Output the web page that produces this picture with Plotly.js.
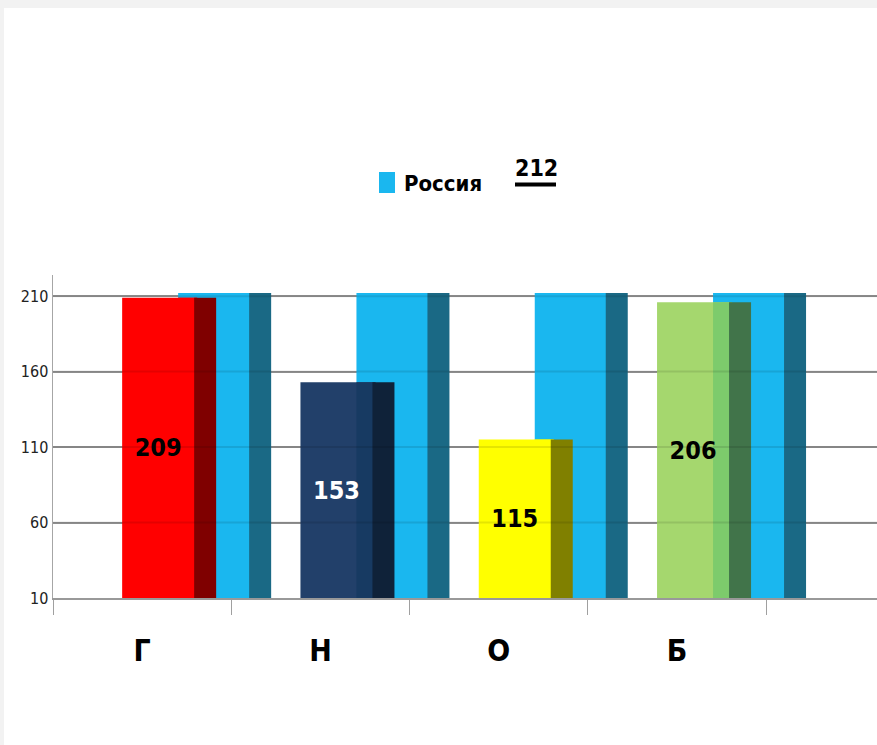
<!DOCTYPE html>
<html>
<head>
<meta charset="utf-8">
<script src="https://cdn.plot.ly/plotly-3.0.1.min.js"></script>
<style>
  html, body { margin: 0; padding: 0; background: #f2f2f2; width: 877px; height: 745px; overflow: hidden; }
  #chart { position: absolute; left: 4px; top: 8px; width: 873px; height: 737px; background: #ffffff; }
</style>
</head>
<body>
<div id="chart"></div>
<script>
// ---- data ----
const categories = ['Г', 'Н', 'О', 'Б'];
const values = [209, 153, 115, 206];
const russia = [212, 212, 212, 212];
const russiaName = 'Россия';
const russiaTotal = 212;
const yTicks = [10, 60, 110, 160, 210];
const xBoundaries = [-0.5, 0.5, 1.5, 2.5, 3.5];

// ---- styles ----
const faceColors  = ['#ff0000', '#22406a', '#ffff00', '#a5d76e'];
const blendColors = ['#ff0000', '#173a62', '#ffff00', '#7dcb6c'];
const sideColors  = ['#7f0000', '#0f2239', '#808000', '#41744a'];
const labelColors = ['#000000', '#ffffff', '#000000', '#000000'];
const blueFace = '#1ab7ef';
const blueSide = '#1a6985';
const FONT = '"Liberation Sans Narrow", "DejaVu Sans Condensed", "Arial Narrow", sans-serif';

const BASE = yTicks[0];
const CAT_PX = 178.3;           // pixels per category
const u = px => px / CAT_PX;    // pixel offset -> category units

const xs = categories.map((c, i) => i);
const hgt = arr => arr.map(v => v - BASE);

function bar(y, x0px, x1px, color, extra) {
  return Object.assign({
    type: 'bar', x: xs, y: hgt(y), base: BASE,
    offset: u(x0px), width: u(x1px - x0px),
    marker: { color: color, line: { width: 0 } },
    hoverinfo: 'skip', showlegend: false
  }, extra || {});
}

const traces = [
  bar(russia, 36, 110, blueFace, { name: russiaName }),
  bar(russia, 107, 129, blueSide),
  bar(values, -20, 55, faceColors),
  bar(values, 36, 55, blendColors),
  bar(values, 52, 74, sideColors),
  bar(values, -20, 52, 'rgba(0,0,0,0)', {
    text: values.map(String),
    textposition: 'inside',
    insidetextanchor: 'middle',
    textangle: 0,
    constraintext: 'none',
    textfont: { family: FONT, size: 25, color: labelColors, weight: 'bold' }
  })
];

const plotW = 824, plotH = 323, L = 49, T = 267;
const px2x = px => (px - 4 - L) / plotW;
const px2y = py => (T + plotH - (py - 8)) / plotH;

const shapes = [
  // legend swatch
  { type: 'rect', xref: 'paper', yref: 'paper',
    x0: px2x(379), x1: px2x(395), y0: px2y(193), y1: px2y(172),
    fillcolor: blueFace, line: { width: 0 } },
  // underline of total
  { type: 'line', xref: 'paper', yref: 'paper',
    x0: px2x(515), x1: px2x(556), y0: px2y(184.5), y1: px2y(184.5),
    line: { color: '#000', width: 4 } }
];
// faint gridlines showing through the bars
yTicks.slice(1).forEach(t => shapes.push({
  type: 'line', xref: 'paper', yref: 'y', x0: 0, x1: 1, y0: t, y1: t,
  layer: 'above', line: { color: 'rgba(0,0,0,0.1)', width: 2 }
}));

const layout = {
  width: 873, height: 737,
  margin: { l: L, r: 0, t: T, b: 147, pad: 0 },
  paper_bgcolor: '#ffffff', plot_bgcolor: '#ffffff',
  barmode: 'overlay',
  showlegend: false,
  hovermode: false,
  xaxis: {
    range: [-0.5, -0.5 + plotW / CAT_PX],
    tickmode: 'array', tickvals: xs, ticktext: categories,
    ticks: 'outside', ticklen: 25, tickcolor: 'rgba(0,0,0,0)',
    tickfont: { family: FONT, size: 30, color: '#000', weight: 'bold' },
    showline: true, linecolor: '#999999', linewidth: 2,
    showgrid: false, zeroline: false, fixedrange: true,
    minor: { tickmode: 'array', tickvals: xBoundaries, ticks: 'outside', ticklen: 15,
             tickcolor: '#a0a0a0', tickwidth: 1, showgrid: false }
  },
  yaxis: {
    range: [BASE, 224],
    tickmode: 'array', tickvals: yTicks, ticktext: yTicks.map(String),
    ticks: '', showgrid: true, gridcolor: '#969696', gridwidth: 2,
    showline: true, linecolor: '#a6a6a6', linewidth: 1.5,
    zeroline: false, fixedrange: true,
    tickfont: { family: FONT, size: 16, color: '#222' }
  },
  shapes: shapes,
  annotations: [
    { xref: 'paper', yref: 'paper', x: px2x(402), y: px2y(183), xanchor: 'left', yanchor: 'middle',
      text: russiaName, showarrow: false,
      font: { family: FONT, size: 22, color: '#000', weight: 'bold' } },
    { xref: 'paper', yref: 'paper', x: px2x(536), y: px2y(168), xanchor: 'center', yanchor: 'middle',
      text: String(russiaTotal), showarrow: false,
      font: { family: FONT, size: 23, color: '#000', weight: 'bold' } }
  ]
};

Plotly.newPlot('chart', traces, layout, { staticPlot: true, displayModeBar: false });
</script>
</body>
</html>
